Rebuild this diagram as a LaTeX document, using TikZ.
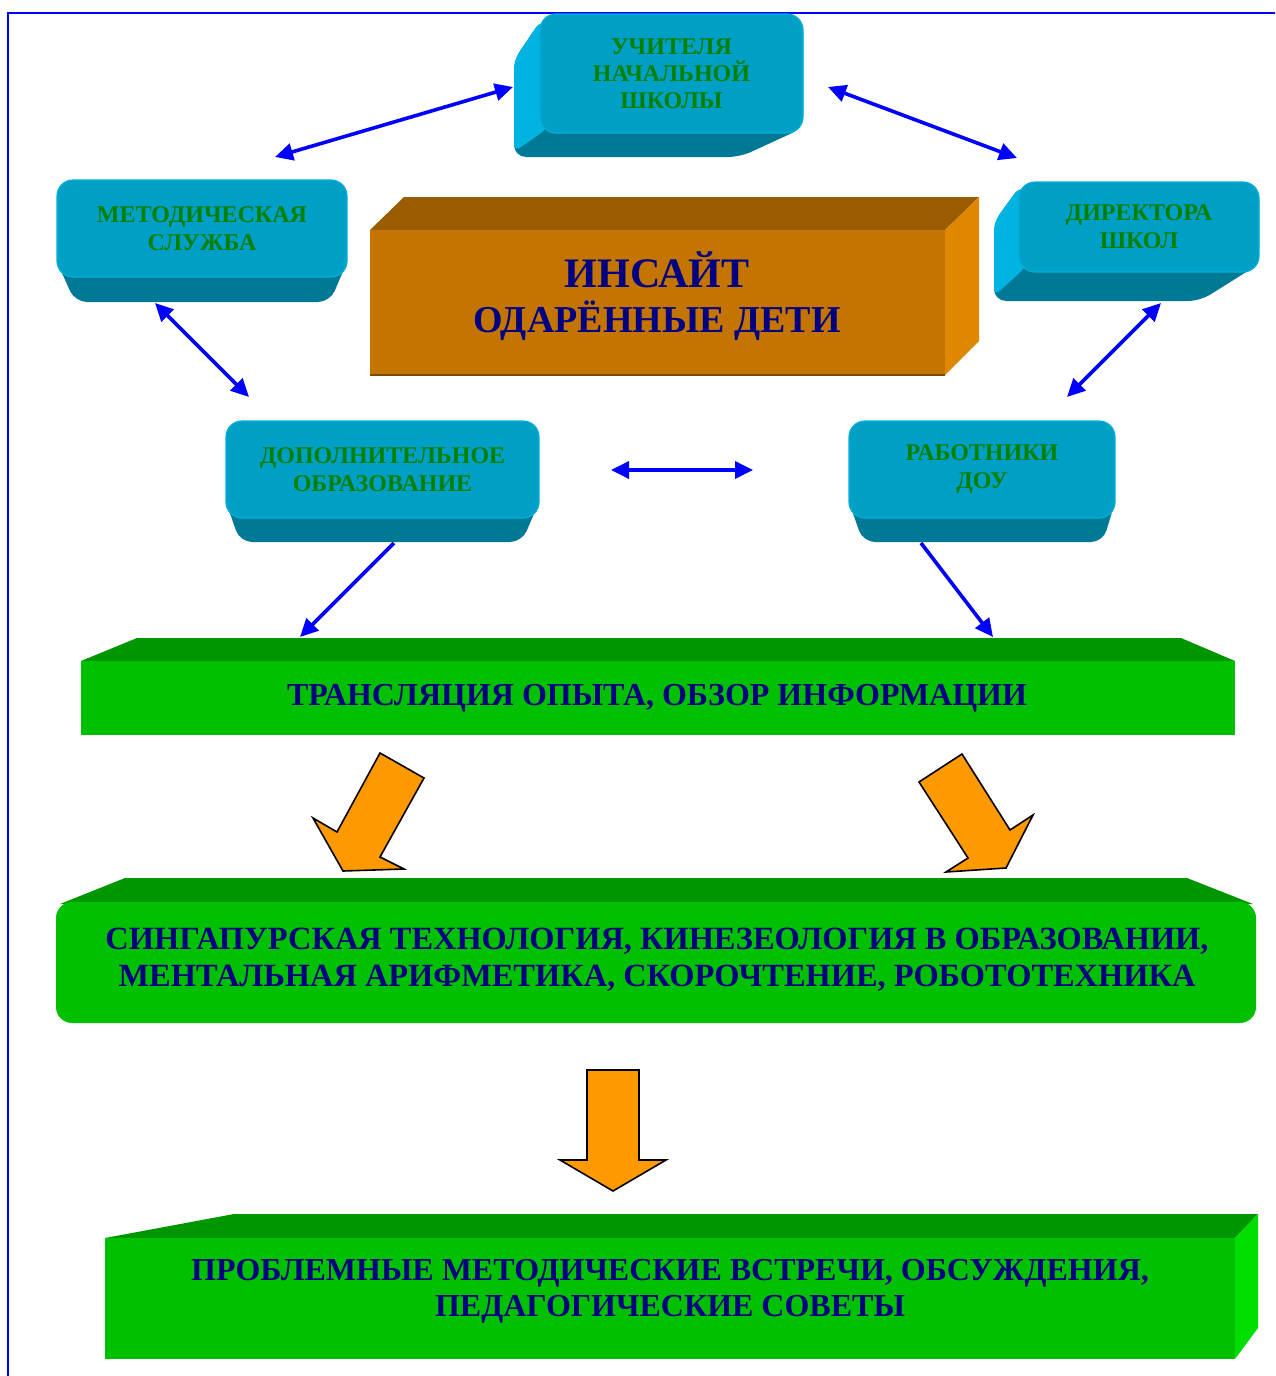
\documentclass[tikz,border=0pt]{standalone}
\usepackage{fontspec}
\setmainfont{Liberation Serif}
\usetikzlibrary{arrows.meta}
\definecolor{cyanfront}{RGB}{0,159,197}
\definecolor{cyanedge}{RGB}{0,176,218}
\definecolor{cyanbottom}{RGB}{0,121,150}
\definecolor{cyanside}{RGB}{0,180,226}
\definecolor{insfront}{RGB}{196,116,0}
\definecolor{instop}{RGB}{153,93,0}
\definecolor{insright}{RGB}{224,135,0}
\definecolor{grfront}{RGB}{0,192,0}
\definecolor{grtop}{RGB}{0,150,0}
\definecolor{grright}{RGB}{0,222,0}
\definecolor{arrorange}{RGB}{255,153,0}
\definecolor{txtgreen}{RGB}{0,128,0}
\definecolor{txtnavy}{RGB}{0,0,128}
\tikzset{
  cfront/.style={fill=cyanfront, draw=cyanedge, line width=0.6pt, rounded corners=8pt, inner sep=0pt,
    align=center, text=txtgreen, font=\fontsize{12}{14}\selectfont\bfseries},
  cbottom/.style={fill=cyanbottom, rounded corners=6pt},
  cside/.style={fill=cyanside, rounded corners=4pt},
  navytext/.style={align=center, text=txtnavy, inner sep=0pt},
  biarrow/.style={draw=blue, line width=1.8pt, {Triangle[length=9pt,width=8.5pt]}-{Triangle[length=9pt,width=8.5pt]}},
  oneway/.style={draw=blue, line width=1.8pt, -{Triangle[length=9pt,width=8.5pt]}},
  bigarrow/.style={fill=arrorange, draw=black, line width=0.8pt, line join=miter}
}
\begin{document}
\begin{tikzpicture}[x=0.5pt,y=-0.5pt]
\useasboundingbox (0,0) rectangle (1275,1376);
% frame
\draw[blue, line width=1pt] (8,1376) -- (8,13) -- (1275,13);

% ---------- УЧИТЕЛЯ (extruded lower-left)
\fill[cbottom] (541,20) -- (514,60) -- (514,157) -- (740,157) -- (803,128) -- (803,20) -- cycle;
\fill[cside] (541,20) -- (514,60) -- (514,152) -- (548,128) -- cycle;
\node[cfront, minimum width=131.5pt, minimum height=59.5pt, font=\fontsize{12}{13.5}\selectfont\bfseries] (uch) at (671.5,73.5) {УЧИТЕЛЯ\\НАЧАЛЬНОЙ\\ШКОЛЫ};

% ---------- ДИРЕКТОРА (extruded lower-left)
\fill[cbottom] (1020,186) -- (994,222) -- (994,301) -- (1200,301) -- (1259,264) -- (1259,186) -- cycle;
\fill[cside] (1020,186) -- (994,222) -- (994,296) -- (1027,266) -- cycle;
\node[cfront, minimum width=120pt, minimum height=45pt] (dir) at (1139,227) {ДИРЕКТОРА\\ШКОЛ};

% ---------- МЕТОДИЧЕСКАЯ (extruded down)
\fill[cbottom] (57,262) -- (347,262) -- (330,302) -- (75,302) -- cycle;
\node[cfront, minimum width=145pt, minimum height=48.5pt] (met) at (202,228.5) {МЕТОДИЧЕСКАЯ\\СЛУЖБА};

% ---------- ДОПОЛНИТЕЛЬНОЕ
\fill[cbottom] (226,502) -- (539,502) -- (522,542) -- (240,542) -- cycle;
\node[cfront, minimum width=156.5pt, minimum height=48.5pt] (dop) at (382.5,469.5) {ДОПОЛНИТЕЛЬНОЕ\\ОБРАЗОВАНИЕ};

% ---------- РАБОТНИКИ
\fill[cbottom] (849,502) -- (1115,502) -- (1103,542) -- (863,542) -- cycle;
\node[cfront, minimum width=133pt, minimum height=48.5pt] (rab) at (982,469.5) {РАБОТНИКИ\\ДОУ};

% ---------- ИНСАЙТ box
\fill[instop] (370,230) -- (404,197) -- (979,197) -- (945,230) -- cycle;
\fill[insright] (945,230) -- (979,197) -- (979,341) -- (945,375) -- cycle;
\fill[insfront] (370,230) rectangle (945,375);
\draw[instop!80!black, line width=0.6pt] (370,375) -- (945,375);
\node[navytext, font=\fontsize{20}{22.5}\selectfont\bfseries] (ins) at (657,296) {{\fontsize{21}{22.5}\selectfont ИНСАЙТ}\\{\fontsize{19}{22.5}\selectfont ОДАРЁННЫЕ ДЕТИ}};

% ---------- green box 1
\fill[grtop] (81,661) -- (137,638) -- (1181,638) -- (1235,661) -- cycle;
\fill[grfront] (81,661) rectangle (1235,735);
\node[navytext, font=\fontsize{16}{18}\selectfont\bfseries] (tr) at (657,698) {ТРАНСЛЯЦИЯ ОПЫТА, ОБЗОР ИНФОРМАЦИИ};

% ---------- green box 2
\fill[grtop] (60,904) -- (125,878) -- (1187,878) -- (1253,904) -- cycle;
\fill[grfront, rounded corners=8pt] (56,902) rectangle (1256,1023);
\node[navytext, font=\fontsize{16.2}{18.5}\selectfont\bfseries] (sing) at (657,960) {СИНГАПУРСКАЯ ТЕХНОЛОГИЯ, КИНЕЗЕОЛОГИЯ В ОБРАЗОВАНИИ,\\МЕНТАЛЬНАЯ АРИФМЕТИКА, СКОРОЧТЕНИЕ, РОБОТОТЕХНИКА};

% ---------- green box 3
\fill[grtop] (105,1238) -- (234,1214) -- (1258,1214) -- (1235,1238) -- cycle;
\fill[grright] (1235,1238) -- (1258,1214) -- (1258,1328) -- (1235,1359) -- cycle;
\fill[grfront] (105,1238) rectangle (1235,1359);
\node[navytext, font=\fontsize{16}{18}\selectfont\bfseries] (prob) at (670,1291) {ПРОБЛЕМНЫЕ МЕТОДИЧЕСКИЕ ВСТРЕЧИ, ОБСУЖДЕНИЯ,\\ПЕДАГОГИЧЕСКИЕ СОВЕТЫ};

% ---------- orange arrows
\draw[bigarrow] (380,753) -- (424,778) -- (380,857) -- (404,869) -- (343,871) -- (313,818) -- (337,832) -- cycle;
\draw[bigarrow] (962,754) -- (919,782) -- (968,858) -- (946,872) -- (1006,868) -- (1033,815) -- (1010,830) -- cycle;
\draw[bigarrow] (587,1070) -- (639,1070) -- (639,1160) -- (666,1160) -- (613,1191) -- (560,1160) -- (587,1160) -- cycle;

% ---------- blue connectors
\coordinate (a1s) at (275,157); \coordinate (a1e) at (513,87);
\coordinate (a2s) at (828,87);  \coordinate (a2e) at (1017,158);
\coordinate (a3s) at (155,303); \coordinate (a3e) at (249,397);
\coordinate (a4s) at (1161,303); \coordinate (a4e) at (1067,397);
\coordinate (a5s) at (611,470); \coordinate (a5e) at (753,470);
\coordinate (a6s) at (394,543); \coordinate (a6e) at (300,637);
\coordinate (a7s) at (921,543); \coordinate (a7e) at (993,637);
\draw[biarrow] (a1s) -- (a1e);
\draw[biarrow] (a2s) -- (a2e);
\draw[biarrow] (a3s) -- (a3e);
\draw[biarrow] (a4s) -- (a4e);
\draw[biarrow] (a5s) -- (a5e);
\draw[oneway] (a6s) -- (a6e);
\draw[oneway] (a7s) -- (a7e);
\end{tikzpicture}
\end{document}
